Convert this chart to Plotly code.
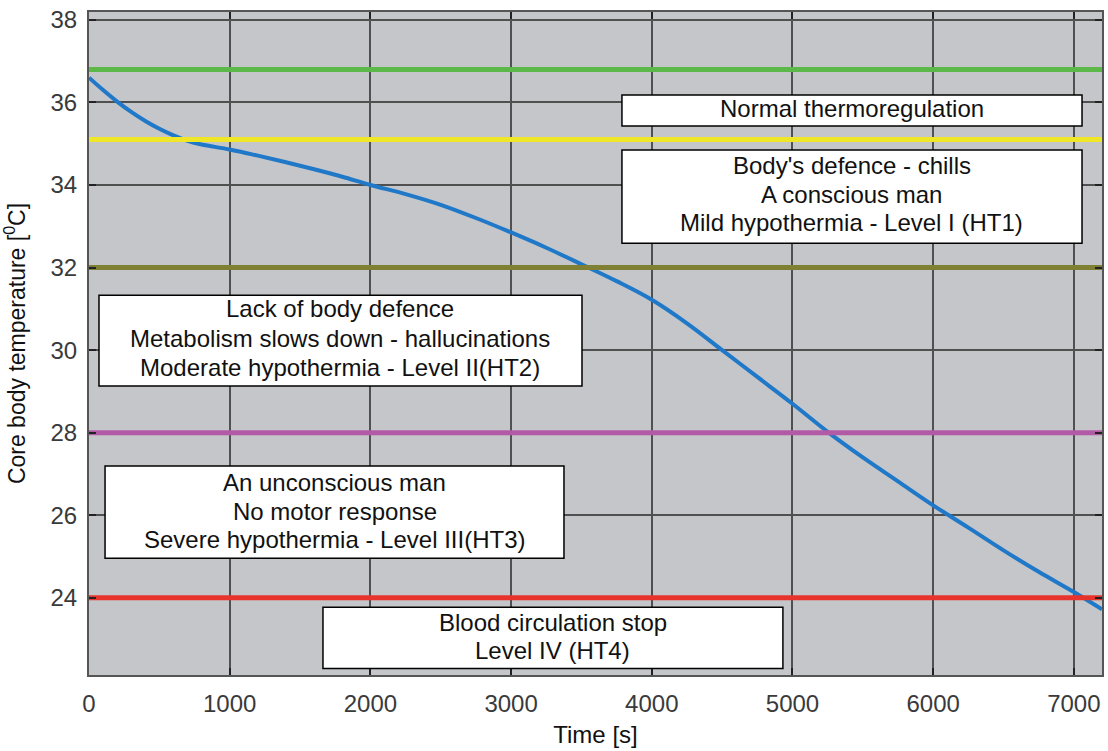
import plotly.graph_objects as go

# Cooling curve (time in s, core temperature in degC)
time_s = [0, 100, 200, 300, 400, 500, 600, 700, 800, 1000, 1200, 1400, 1600, 1800,
          2000, 2250, 2500, 2750, 3000, 3250, 3500, 3750, 4000, 4250, 4500, 4750,
          5000, 5250, 5500, 5750, 6000, 6250, 6500, 6750, 7000, 7200]
core_temp = [36.6, 36.3, 36.02, 35.77, 35.55, 35.36, 35.2, 35.07, 34.98, 34.86, 34.71,
             34.55, 34.38, 34.2, 34.0, 33.78, 33.52, 33.2, 32.85, 32.48, 32.08, 31.67,
             31.22, 30.65, 30.0, 29.35, 28.7, 28.02, 27.4, 26.82, 26.24, 25.7, 25.15,
             24.63, 24.14, 23.72]

# Threshold levels
level_values = [36.8, 35.1, 32.0, 28.0, 24.0]
level_colors = ["#5cb848", "#f0e628", "#7f8034", "#b35aa6", "#e8332c"]
x_span = [0, 7200]

x_ticks = [0, 1000, 2000, 3000, 4000, 5000, 6000, 7000]
y_ticks = [24, 26, 28, 30, 32, 34, 36, 38]

# Zone descriptions (one list of lines per box)
zone_lines = [
    ["Normal thermoregulation"],
    ["Body's defence - chills", "A conscious man", "Mild hypothermia - Level I (HT1)"],
    ["Lack of body defence", "Metabolism slows down - hallucinations",
     "Moderate hypothermia - Level II(HT2)"],
    ["An unconscious man", "No motor response", "Severe hypothermia - Level III(HT3)"],
    ["Blood circulation stop", "Level IV (HT4)"],
]
# box extents in axis units
box_x0 = [3788, 3788, 71, 114, 1663]
box_x1 = [7058, 7058, 3504, 3376, 4932]
box_ytop = [36.18, 34.85, 31.33, 27.19, 23.77]
box_ybot = [35.43, 32.59, 29.13, 24.96, 22.29]
line_y = [
    [35.85],
    [34.46, 33.76, 33.08],
    [31.02, 30.29, 29.59],
    [26.80, 26.10, 25.42],
    [23.41, 22.73],
]

fig = go.Figure()

fig.add_trace(go.Scatter(x=time_s, y=core_temp, mode="lines",
                         line=dict(color="#1f78c8", width=4, shape="spline", smoothing=1.0),
                         showlegend=False))

for v, c in zip(level_values, level_colors):
    fig.add_trace(go.Scatter(x=x_span, y=[v, v], mode="lines",
                             line=dict(color=c, width=5), showlegend=False))

for lines, x0, x1, yt, yb, ys in zip(zone_lines, box_x0, box_x1, box_ytop, box_ybot, line_y):
    fig.add_shape(type="rect", xref="x", yref="y", x0=x0, x1=x1, y0=yb, y1=yt,
                  fillcolor="white", line=dict(color="black", width=1.5), layer="above")
    for txt, yy in zip(lines, ys):
        fig.add_annotation(x=(x0 + x1) / 2, y=yy, xref="x", yref="y", text=txt,
                           showarrow=False, xanchor="center", yanchor="middle",
                           font=dict(family="Liberation Sans, Arial", size=24, color="#111111"))

axis_common = dict(showgrid=True, gridcolor="#505050", gridwidth=1.5,
                   showline=True, linecolor="#555555", linewidth=2, mirror="ticks",
                   ticks="inside", ticklen=7, tickcolor="#222222", tickwidth=1.5,
                   zeroline=False,
                   tickfont=dict(family="Liberation Sans, Arial", size=24, color="#3a3a3a"))

fig.update_xaxes(range=[0, 7200], tickvals=x_ticks, ticktext=[str(v) for v in x_ticks],
                 ticklabelstandoff=6,
                 title=dict(text="Time [s]", standoff=10,
                            font=dict(family="Liberation Sans, Arial", size=24, color="#111111")),
                 **axis_common)
fig.update_yaxes(range=[22.13, 38.19], tickvals=y_ticks, ticktext=[str(v) for v in y_ticks],
                 ticklabelstandoff=5,
                 title=dict(text="Core body temperature [<sup>0</sup>C]", standoff=24,
                            font=dict(family="Liberation Sans, Arial", size=23, color="#111111")),
                 **axis_common)

fig.update_layout(width=1108, height=751, margin=dict(l=89, r=6, t=12, b=76, autoexpand=False),
                  plot_bgcolor="#c5c6c9", paper_bgcolor="white", showlegend=False)

# remove the default page margin so the figure fills the window exactly
fig.write_html("out.html", config={"displayModeBar": False},
               post_script="document.body.style.margin='0';")
